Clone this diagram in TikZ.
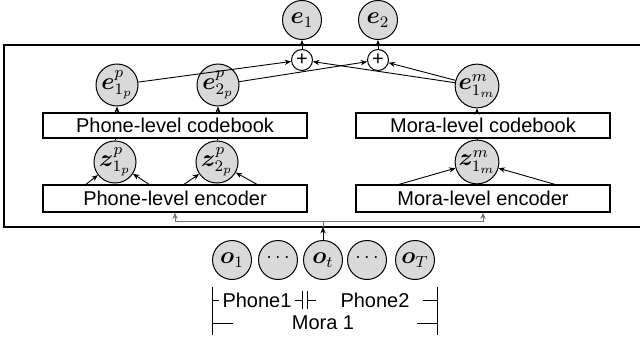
\documentclass[tikz,border=0pt]{standalone}
\usepackage[no-math]{fontspec}
\setmainfont{Liberation Sans}
\usepackage{bm}
\usetikzlibrary{arrows.meta}
\begin{document}
\begin{tikzpicture}[x=0.5pt,y=-0.5pt,
  arr/.style={-{Stealth[length=3.2pt,width=2.6pt]}, line width=0.45pt},
  ln/.style={line width=0.5pt},
  inln/.style={line width=0.5pt, draw=black!55},
  circ/.style={circle, draw, fill=gray!30, minimum size=19.5pt, inner sep=0pt, line width=0.5pt, font=\fontsize{12}{14}\selectfont},
  plusn/.style={circle, draw, fill=white, minimum size=10.5pt, inner sep=0pt, line width=0.5pt, font=\fontsize{10}{12}\selectfont},
  blk/.style={rectangle, draw, line width=0.6pt, minimum width=132pt, inner sep=0pt, font=\fontsize{10}{12}\selectfont},
  lbl/.style={inner sep=0pt, font=\fontsize{10}{12}\selectfont}]
\useasboundingbox (0,0) rectangle (640,341);
% outer frame
\coordinate (outerNW) at (4,45);
\coordinate (outerSE) at (646,227);
\draw[line width=0.6pt] (outerNW) rectangle (outerSE);
% outputs
\node[circ] (e1) at (302,20) {$\bm{e}_1$};
\node[circ] (e2) at (378,20) {$\bm{e}_2$};
\node[plusn] (plus1) at (302,60) {+};
\node[plusn] (plus2) at (378,60) {+};
% quantized
\node[circ] (e1p) at (117,85) {$\bm{e}^{p}_{1_p}$};
\node[circ] (e2p) at (218,85) {$\bm{e}^{p}_{2_p}$};
\node[circ] (e1m) at (477,86) {$\bm{e}^{m}_{1_m}$};
% codebooks
\node[blk, minimum height=12.5pt] (pcb) at (175,125.5) {Phone-level codebook};
\node[blk, minimum width=127pt, minimum height=12.5pt] (mcb) at (483,125.5) {Mora-level codebook};
% latent
\node[circ] (z1p) at (115,162) {$\bm{z}^{p}_{1_p}$};
\node[circ] (z2p) at (217,162) {$\bm{z}^{p}_{2_p}$};
\node[circ] (z1m) at (477,162) {$\bm{z}^{m}_{1_m}$};
% encoders
\node[blk, minimum height=13.5pt] (penc) at (175,198.5) {Phone-level encoder};
\node[blk, minimum width=127pt, minimum height=13.5pt] (menc) at (483,198.5) {Mora-level encoder};
% inputs
\node[circ] (o1) at (232,260) {$\bm{o}_1$};
\node[circ, font=\fontsize{10}{12}\selectfont] (od1) at (278,260) {\raisebox{1.5pt}{$\cdots$}};
\node[circ] (ot) at (323,260) {$\bm{o}_t$};
\node[circ, font=\fontsize{10}{12}\selectfont] (od2) at (367,260) {\raisebox{1.5pt}{$\cdots$}};
\node[circ] (oT) at (415,260) {$\bm{o}_T$};
% encoder -> latent
\coordinate (a1) at (85,185);
\coordinate (a2) at (150,185);
\coordinate (a3) at (183,185);
\coordinate (a4) at (258,185);
\coordinate (a5) at (397,185);
\coordinate (a6) at (557,185);
\draw[arr] (a1) -- (z1p);
\draw[arr] (a2) -- (z1p);
\draw[arr] (a3) -- (z2p);
\draw[arr] (a4) -- (z2p);
\draw[arr] (a5) -- (z1m);
\draw[arr] (a6) -- (z1m);
% latent -> codebook
\draw[ln] (z1p) -- (z1p |- pcb.south);
\draw[ln] (z2p) -- (z2p |- pcb.south);
\draw[ln] (z1m) -- (z1m |- mcb.south);
% codebook -> quantized
\draw[arr] (e1p |- pcb.north) -- (e1p);
\draw[arr] (e2p |- pcb.north) -- (e2p);
\draw[arr] (e1m |- mcb.north) -- (e1m);
% quantized -> sums
\draw[arr] (e1p) -- (plus1);
\draw[arr] (e2p) -- (plus2);
\draw[arr] (e1m) -- (plus1);
\draw[arr] (e1m) -- (plus2);
\draw[arr] (plus1) -- (e1);
\draw[arr] (plus2) -- (e2);
% input distribution
\coordinate (hl) at (323,222);
\draw[arr] (ot) -- (ot |- outerSE);
\draw[inln] (ot |- outerSE) -- (hl);
\draw[inln, -{Stealth[length=3.2pt,width=2.6pt]}] (hl) -| (penc.south);
\draw[inln, -{Stealth[length=3.2pt,width=2.6pt]}] (hl) -| (menc.south);
% segment brackets
\draw[ln] (212,287) -- (212,335);
\draw[ln] (437,287) -- (437,335);
\draw[ln] (212,300) -- (219,300);
\node[lbl] (ph1) at (257,300) {Phone1};
\draw[ln] (295,300) -- (302,300);
\draw[ln] (302,291) -- (302,309);
\draw[ln] (307,291) -- (307,309);
\draw[ln] (307,300) -- (316,300);
\node[lbl] (ph2) at (375,300) {Phone2};
\draw[ln] (423,300) -- (437,300);
\draw[ln] (212,323) -- (233,323);
\node[lbl] (mora) at (323,323) {Mora 1};
\draw[ln] (417,323) -- (437,323);
\end{tikzpicture}
\end{document}
